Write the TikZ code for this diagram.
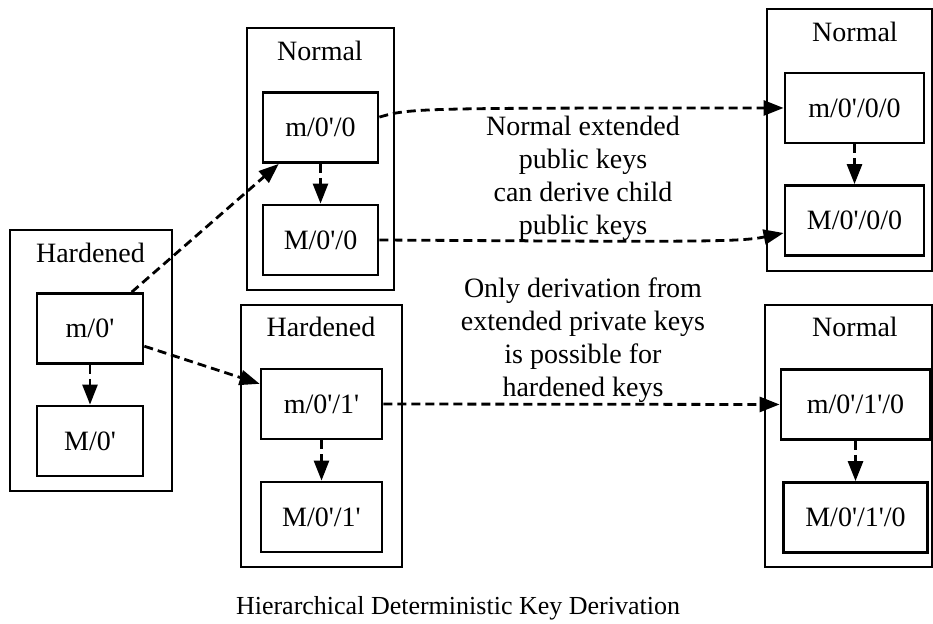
\documentclass[tikz,border=0pt]{standalone}
\usepackage{fontspec}
\setmainfont{Liberation Serif}
\usetikzlibrary{arrows.meta}
\newcommand{\hardq}{\textquotesingle}

\begin{document}
\begin{tikzpicture}[x=0.5pt,y=-0.5pt,font=\fontsize{14}{16.5}\selectfont,
  cluster/.style={draw,line width=1.4pt},
  key/.style={draw,line width=1.4pt,minimum height=35pt,inner sep=0pt},
  note/.style={align=center,inner sep=0pt,anchor=north},
  derive/.style={line width=1.4pt,dash pattern=on 4.5pt off 2.5pt,-{Triangle[length=10pt,width=7.5pt]}}]

\useasboundingbox (0,0) rectangle (933,624);

\draw [cluster] (10,230) rectangle (172,491);
\draw [cluster] (247,28) rectangle (394,290);
\draw [cluster] (241,305) rectangle (402,567);
\draw [cluster] (767,9) rectangle (932,271);
\draw [cluster] (765,305) rectangle (932,567);

\node [anchor=base] (hard0) at (90.5,262.7) {Hardened};
\node [anchor=base] (norm1) at (320,61) {Normal};
\node [anchor=base] (hard1) at (321,336.7) {Hardened};
\node [anchor=base] (norm2) at (855,41.7) {Normal};
\node [anchor=base] (norm3) at (855,336.7) {Normal};

\node [key,minimum width=53pt] (m0) at (90,328.5) {m/0\hardq};
\node [key,minimum width=53pt] (M0) at (90,441) {M/0\hardq};

\node [key,minimum width=57.5pt] (m00) at (320.5,127.5) {m/0\hardq/0};
\node [key,minimum width=57.5pt] (M00) at (320.5,240) {M/0\hardq/0};

\node [key,minimum width=60.5pt] (m01) at (321.5,404) {m/0\hardq/1\hardq};
\node [key,minimum width=60.5pt] (M01) at (321.5,517) {M/0\hardq/1\hardq};

\node [key,minimum width=69.5pt] (m000) at (854.5,108) {m/0\hardq/0/0};
\node [key,minimum width=69.5pt] (M000) at (854.5,220.5) {M/0\hardq/0/0};

\node [key,minimum width=74.5pt] (m010) at (855.5,404.5) {m/0\hardq/1\hardq/0};
\node [key,minimum width=72pt] (M010) at (855.5,517.5) {M/0\hardq/1\hardq/0};

\draw [derive] (m0) -- (M0);
\draw [derive] (m00) -- (M00);
\draw [derive] (m01) -- (M01);
\draw [derive] (m000) -- (M000);
\draw [derive] (m010) -- (M010);

\draw [derive] (m0) -- (m00);
\draw [derive] (m0) -- (m01);
\draw [derive] (m00.10) .. controls (410,108) and (420,108) .. (m000.west);
\draw [derive] (M00.east) .. controls (700,242) and (740,242) .. (M000.190);
\draw [derive] (m01.east) -- (m010.west);

\node [note] (pubnote) at (583,116) {Normal extended\\public keys\\can derive child\\public keys};
\node [note] (privnote) at (583,277) {Only derivation from\\extended private keys\\is possible for\\hardened keys};

\node [anchor=base,font=\fontsize{13}{15}\selectfont] (caption) at (458,615) {Hierarchical Deterministic Key Derivation};

\end{tikzpicture}
\end{document}
